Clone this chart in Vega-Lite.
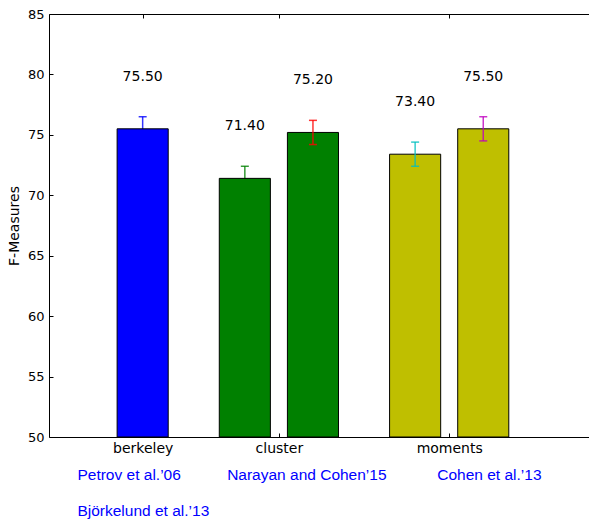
{
  "$schema": "https://vega.github.io/schema/vega-lite/v6.json",
  "width": 540,
  "height": 423,
  "autosize": {"type": "none"},
  "padding": {"left": 49, "top": 14, "right": 0, "bottom": 82},
  "config": {
    "view": {"stroke": null},
    "font": "DejaVu Sans",
    "axis": {"grid": false, "domainColor": "black", "tickColor": "black", "labelColor": "black", "titleColor": "black", "labelFont": "DejaVu Sans", "titleFont": "DejaVu Sans"}
  },
  "datasets": {
    "bars": [
      {"id": "berkeley-1", "feature": "berkeley", "start": 0.4, "end": 0.7, "center": 0.55, "value": 75.5, "lo": 74.5, "hi": 76.5},
      {"id": "cluster-1", "feature": "cluster", "start": 1.0, "end": 1.3, "center": 1.15, "value": 71.4, "lo": 70.4, "hi": 72.4},
      {"id": "cluster-2", "feature": "cluster", "start": 1.4, "end": 1.7, "center": 1.55, "value": 75.2, "lo": 74.2, "hi": 76.2},
      {"id": "moments-1", "feature": "moments", "start": 2.0, "end": 2.3, "center": 2.15, "value": 73.4, "lo": 72.4, "hi": 74.4},
      {"id": "moments-2", "feature": "moments", "start": 2.4, "end": 2.7, "center": 2.55, "value": 75.5, "lo": 74.5, "hi": 76.5}
    ],
    "notes": [
      {"label": "Petrov et al.’06", "x": 0.167, "y": 46.84},
      {"label": "Björkelund et al.’13", "x": 0.167, "y": 43.86},
      {"label": "Narayan and Cohen’15", "x": 1.046, "y": 46.84},
      {"label": "Cohen et al.’13", "x": 2.28, "y": 46.84}
    ]
  },
  "data": {"name": "bars"},
  "resolve": {"axis": {"x": "independent"}},
  "layer": [
    {
      "transform": [{"filter": {"field": "id", "oneOf": ["berkeley-1", "cluster-1"]}}],
      "layer": [
        {
          "mark": {"type": "rule", "strokeWidth": 1.5, "opacity": 0.8},
          "encoding": {
            "x": {"field": "center", "type": "quantitative", "scale": {"domain": [0, 3.171], "nice": false, "zero": false}, "axis": null},
            "y": {"field": "lo", "type": "quantitative", "scale": {"domain": [50, 85], "nice": false, "zero": false}, "axis": {"values": [50, 55, 60, 65, 70, 75, 80, 85], "tickSize": -4, "labelPadding": 9, "labelFontSize": 13, "title": "F-Measures", "titleFontSize": 14, "titleFontWeight": "normal", "titlePadding": 6}},
            "y2": {"field": "hi"},
            "color": {"field": "id", "type": "nominal", "scale": {"domain": ["berkeley-1", "cluster-1", "cluster-2", "moments-1", "moments-2"], "range": ["#0000ff", "#008000", "#ff0000", "#00bfbf", "#bf00bf"]}, "legend": null}
          }
        },
        {
          "mark": {"type": "tick", "orient": "horizontal", "size": 8, "thickness": 1.5, "opacity": 0.8},
          "encoding": {
            "x": {"field": "center", "type": "quantitative", "axis": null},
            "y": {"field": "hi", "type": "quantitative"},
            "color": {"field": "id", "type": "nominal", "legend": null}
          }
        }
      ]
    },
    {
      "mark": {"type": "rect", "stroke": "black", "strokeWidth": 1},
      "encoding": {
        "x": {"field": "start", "type": "quantitative", "axis": {"orient": "bottom", "values": [0.55, 1.35, 2.35], "labelExpr": "datum.value < 1 ? 'berkeley' : datum.value < 2 ? 'cluster' : 'moments'", "tickSize": -4, "labelPadding": 8, "labelFontSize": 14, "labelFlush": false, "labelOverlap": false, "title": null}},
        "x2": {"field": "end"},
        "y": {"field": "value", "type": "quantitative"},
        "y2": {"datum": 50},
        "fill": {"field": "feature", "type": "nominal", "scale": {"domain": ["berkeley", "cluster", "moments"], "range": ["#0000ff", "#008000", "#bfbf00"]}, "legend": null}
      }
    },
    {
      "transform": [{"filter": {"field": "id", "oneOf": ["cluster-2", "moments-1", "moments-2"]}}],
      "layer": [
        {
          "mark": {"type": "rule", "strokeWidth": 1.5, "opacity": 0.8},
          "encoding": {
            "x": {"field": "center", "type": "quantitative", "axis": null},
            "y": {"field": "lo", "type": "quantitative"},
            "y2": {"field": "hi"},
            "color": {"field": "id", "type": "nominal", "legend": null}
          }
        },
        {
          "mark": {"type": "tick", "orient": "horizontal", "size": 8, "thickness": 1.5, "opacity": 0.8},
          "encoding": {
            "x": {"field": "center", "type": "quantitative", "axis": null},
            "y": {"field": "hi", "type": "quantitative"},
            "color": {"field": "id", "type": "nominal", "legend": null}
          }
        },
        {
          "mark": {"type": "tick", "orient": "horizontal", "size": 8, "thickness": 1.5, "opacity": 0.8},
          "encoding": {
            "x": {"field": "center", "type": "quantitative", "axis": null},
            "y": {"field": "lo", "type": "quantitative"},
            "color": {"field": "id", "type": "nominal", "legend": null}
          }
        }
      ]
    },
    {
      "mark": {"type": "text", "fontSize": 14, "baseline": "middle", "align": "center", "dy": -52, "color": "black"},
      "encoding": {
        "x": {"field": "center", "type": "quantitative", "axis": {"orient": "top", "values": [0.55, 1.35, 2.35], "labels": false, "tickSize": -4, "title": null}},
        "y": {"field": "value", "type": "quantitative"},
        "text": {"field": "value", "type": "quantitative", "format": ".2f"}
      }
    },
    {
      "data": {"name": "notes"},
      "mark": {"type": "text", "font": "Liberation Sans", "fontSize": 15.5, "align": "left", "baseline": "middle", "color": "#0000ff"},
      "encoding": {
        "x": {"field": "x", "type": "quantitative", "axis": null},
        "y": {"field": "y", "type": "quantitative"},
        "text": {"field": "label", "type": "nominal"}
      }
    }
  ]
}
